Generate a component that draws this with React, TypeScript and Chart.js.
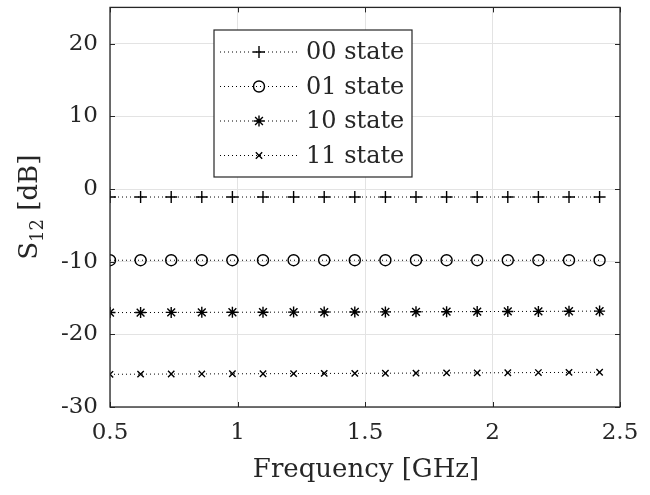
import React, { useEffect, useRef } from 'react';
import { Chart, registerables } from 'chart.js';

Chart.register(...registerables);

const frequencyGHz = [0.5, 0.62, 0.74, 0.86, 0.98, 1.1, 1.22, 1.34, 1.46, 1.58, 1.7, 1.82, 1.94, 2.06, 2.18, 2.3, 2.42];
const state00 = [-1.1, -1.1, -1.1, -1.1, -1.1, -1.1, -1.1, -1.1, -1.1, -1.1, -1.1, -1.1, -1.1, -1.1, -1.1, -1.1, -1.1];
const state01 = [-9.8, -9.8, -9.8, -9.8, -9.8, -9.8, -9.8, -9.8, -9.8, -9.8, -9.8, -9.8, -9.8, -9.8, -9.8, -9.8, -9.8];
const state10 = [-17.0, -17.0, -16.98, -16.97, -16.96, -16.95, -16.94, -16.93, -16.92, -16.91, -16.9, -16.88, -16.87, -16.85, -16.84, -16.82, -16.8];
const state11 = [-25.5, -25.48, -25.46, -25.45, -25.43, -25.42, -25.4, -25.38, -25.37, -25.35, -25.33, -25.31, -25.3, -25.28, -25.26, -25.24, -25.22];

const seriesLabels = ['00 state', '01 state', '10 state', '11 state'];
const seriesValues = [state00, state01, state10, state11];
const markerStyles = ['cross', 'circle', 'star', 'crossRot'];
const markerSizes = [6, 5.5, 5.5, 4.5];

const xTicks = [0.5, 1, 1.5, 2, 2.5];
const xTickLabels = ['0.5', '1', '1.5', '2', '2.5'];
const yTicks = [-30, -20, -10, 0, 10, 20];
const yTickLabels = ['-30', '-20', '-10', '0', '10', '20'];

const FONT = "'DejaVu Serif', serif";
const TEXT = '#262626';

function drawMarker(ctx: CanvasRenderingContext2D, style: string, cx: number, cy: number, r: number) {
  ctx.beginPath();
  if (style === 'circle') {
    ctx.arc(cx, cy, r, 0, Math.PI * 2);
  } else {
    if (style === 'cross' || style === 'star') {
      ctx.moveTo(cx - r, cy); ctx.lineTo(cx + r, cy);
      ctx.moveTo(cx, cy - r); ctx.lineTo(cx, cy + r);
    }
    if (style === 'crossRot' || style === 'star') {
      const d = r * Math.SQRT1_2;
      ctx.moveTo(cx - d, cy - d); ctx.lineTo(cx + d, cy + d);
      ctx.moveTo(cx - d, cy + d); ctx.lineTo(cx + d, cy - d);
    }
  }
  ctx.stroke();
}

const decorPlugin = {
  id: 'decor',
  afterDraw(chart: any) {
    const { ctx, chartArea } = chart;
    const { left, right, top, bottom } = chartArea;
    const xs = chart.scales.x;
    const ys = chart.scales.y;
    ctx.save();
    // inner ticks
    ctx.strokeStyle = TEXT;
    ctx.lineWidth = 1;
    ctx.beginPath();
    xTicks.forEach((v) => {
      const px = Math.round(xs.getPixelForValue(v)) + 0.5;
      ctx.moveTo(px, bottom); ctx.lineTo(px, bottom - 5);
      ctx.moveTo(px, top); ctx.lineTo(px, top + 5);
    });
    yTicks.forEach((v) => {
      const py = Math.round(ys.getPixelForValue(v)) + 0.5;
      ctx.moveTo(left, py); ctx.lineTo(left + 5, py);
      ctx.moveTo(right, py); ctx.lineTo(right - 5, py);
    });
    ctx.stroke();
    // frame
    ctx.lineWidth = 1.3;
    ctx.strokeRect(left, top, right - left, bottom - top);

    // legend
    const bx = 214, by = 30, bw = 198, bh = 147;
    ctx.fillStyle = '#ffffff';
    ctx.fillRect(bx, by, bw, bh);
    ctx.lineWidth = 1.2;
    ctx.strokeStyle = TEXT;
    ctx.strokeRect(bx, by, bw, bh);
    seriesLabels.forEach((label, i) => {
      const cy = by + 22 + i * 34.5;
      ctx.strokeStyle = '#000';
      ctx.lineWidth = 1;
      ctx.setLineDash([1, 3]);
      ctx.beginPath();
      ctx.moveTo(220, cy); ctx.lineTo(298, cy);
      ctx.stroke();
      ctx.setLineDash([]);
      ctx.lineWidth = 1.4;
      drawMarker(ctx, markerStyles[i], 259, cy, markerSizes[i]);
      ctx.fillStyle = TEXT;
      ctx.font = `24px ${FONT}`;
      ctx.textAlign = 'left';
      ctx.textBaseline = 'middle';
      ctx.fillText(label, 306, cy + 1);
    });

    // x title
    ctx.fillStyle = TEXT;
    ctx.font = `26px ${FONT}`;
    ctx.textAlign = 'center';
    ctx.textBaseline = 'alphabetic';
    ctx.fillText('Frequency [GHz]', (left + right) / 2 + 1, 477);

    // y title with subscript
    ctx.save();
    ctx.translate(37, (top + bottom) / 2);
    ctx.rotate(-Math.PI / 2);
    const mainFont = `26px ${FONT}`;
    const subFont = `18px ${FONT}`;
    ctx.font = mainFont;
    const wS = ctx.measureText('S').width;
    const wRest = ctx.measureText(' [dB]').width;
    ctx.font = subFont;
    const wSub = ctx.measureText('12').width;
    const total = wS + wSub + wRest;
    let x0 = -total / 2;
    ctx.textAlign = 'left';
    ctx.font = mainFont;
    ctx.fillText('S', x0, 0);
    x0 += wS;
    ctx.font = subFont;
    ctx.fillText('12', x0, 6);
    x0 += wSub;
    ctx.font = mainFont;
    ctx.fillText(' [dB]', x0, 0);
    ctx.restore();

    ctx.restore();
  },
};

export default function App() {
  const canvasRef = useRef<HTMLCanvasElement | null>(null);

  useEffect(() => {
    const canvas = canvasRef.current;
    if (!canvas) return;
    const datasets = seriesLabels.map((label, i) => ({
      label,
      data: frequencyGHz.map((x, j) => ({ x, y: seriesValues[i][j] })),
      borderColor: '#000000',
      borderWidth: 1,
      borderDash: [1, 3],
      pointStyle: markerStyles[i] as any,
      pointRadius: markerSizes[i],
      pointBorderWidth: 1.4,
      pointBorderColor: '#000000',
      pointBackgroundColor: 'rgba(0,0,0,0)',
      showLine: true,
      fill: false,
      tension: 0,
    }));

    const chart = new Chart(canvas, {
      type: 'line',
      data: { datasets },
      options: {
        responsive: false,
        animation: false,
        devicePixelRatio: 1,
        layout: { padding: { left: 0, right: 30, top: 5, bottom: 0 } },
        plugins: { legend: { display: false }, tooltip: { enabled: false } },
        scales: {
          x: {
            type: 'linear',
            min: 0.5,
            max: 2.5,
            afterBuildTicks: (scale: any) => { scale.ticks = xTicks.map((v) => ({ value: v })); },
            afterFit: (scale: any) => { scale.height = 88; scale.paddingLeft = 0; scale.paddingRight = 0; },
            ticks: {
              color: TEXT,
              font: { family: FONT, size: 23 },
              padding: 12,
              maxRotation: 0,
              callback: (v: any) => { const k = xTicks.indexOf(Number(v)); return k >= 0 ? xTickLabels[k] : ''; },
            },
            grid: { color: '#e3e3e3', lineWidth: 1, drawTicks: false },
            border: { display: false },
          },
          y: {
            type: 'linear',
            min: -30,
            max: 25,
            afterBuildTicks: (scale: any) => { scale.ticks = yTicks.map((v) => ({ value: v })); },
            afterFit: (scale: any) => { scale.width = 110; scale.paddingTop = 0; scale.paddingBottom = 0; },
            ticks: {
              color: TEXT,
              font: { family: FONT, size: 23 },
              padding: 12,
              callback: (v: any) => { const k = yTicks.indexOf(Number(v)); return k >= 0 ? yTickLabels[k] : ''; },
            },
            grid: { color: '#e3e3e3', lineWidth: 1, drawTicks: false },
            border: { display: false },
          },
        },
      },
      plugins: [decorPlugin],
    });
    return () => chart.destroy();
  }, []);

  return (
    <canvas
      ref={canvasRef}
      width={650}
      height={495}
      style={{ position: 'fixed', left: 0, top: 0, width: 650, height: 495, display: 'block', background: '#fff' }}
    />
  );
}
